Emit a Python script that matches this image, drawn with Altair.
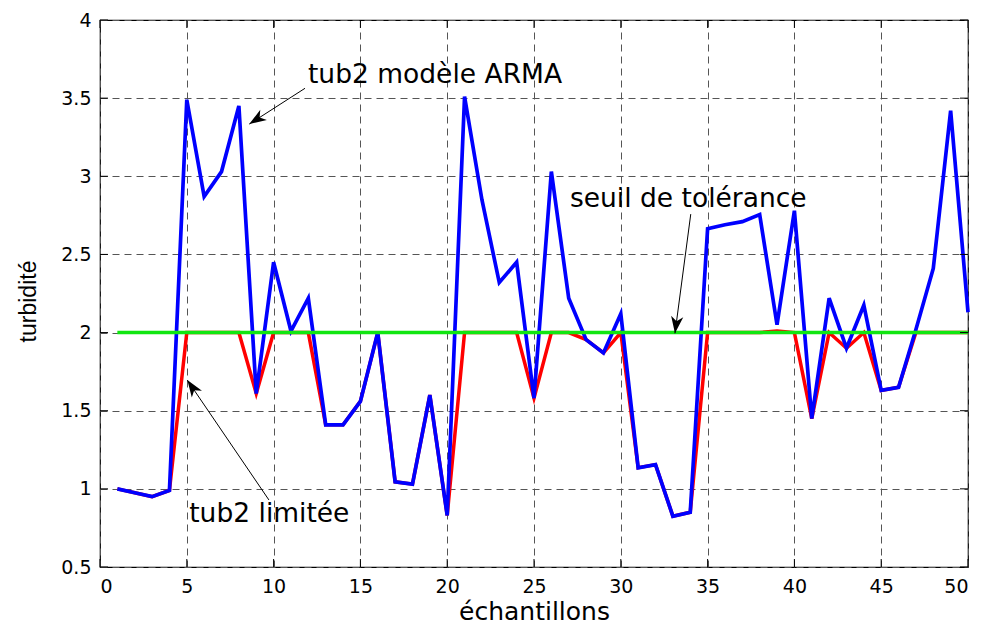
import math
import altair as alt
import pandas as pd

# ---------------- data ----------------
samples = list(range(1, 51))
tub2_arma = [1.00, 0.975, 0.95, 0.99, 3.49, 2.87, 3.03, 3.45, 1.61, 2.45,
             2.01, 2.22, 1.41, 1.41, 1.56, 2.00, 1.045, 1.03, 1.60, 0.83,
             3.51, 2.85, 2.32, 2.45, 1.58, 3.03, 2.22, 1.955, 1.87, 2.12,
             1.135, 1.155, 0.825, 0.85, 2.665, 2.69, 2.71, 2.755, 2.05, 2.78,
             1.45, 2.22, 1.90, 2.175, 1.63, 1.65, 2.02, 2.41, 3.42, 2.13]
tub2_limitee = [1.00, 0.975, 0.95, 0.99, 2.0, 2.0, 2.0, 2.0, 1.61, 2.0,
                2.0, 2.0, 1.41, 1.41, 1.56, 2.0, 1.045, 1.03, 1.60, 0.83,
                2.0, 2.0, 2.0, 2.0, 1.58, 2.0, 2.0, 1.955, 1.87, 2.0,
                1.135, 1.155, 0.825, 0.85, 2.0, 2.0, 2.0, 2.0, 2.01, 2.0,
                1.45, 2.0, 1.90, 2.0, 1.63, 1.65, 2.0, 2.0, 2.0, 2.0]
seuil_x = [1, 50]
seuil_y = [2.0, 2.0]

x_ticks = [0, 5, 10, 15, 20, 25, 30, 35, 40, 45, 50]
y_ticks = [0.5, 1, 1.5, 2, 2.5, 3, 3.5, 4]

ann_text = ["tub2 modèle ARMA", "seuil de tolérance", "tub2 limitée"]
ann_text_x = [11.98, 27.07, 5.14]
ann_text_y = [3.598, 2.805, 0.79]
arrow_tail_x = [11.81, 34.03, 9.73]
arrow_tail_y = [3.563, 2.758, 0.929]
arrow_head_x = [8.60, 33.12, 5.03]
arrow_head_y = [3.334, 1.995, 1.696]

# ---------------- layout ----------------
W, H = 868, 547
X_DOM = [0, 50]
Y_DOM = [0.5, 4]
FONT = "DejaVu Sans"

sx = W / (X_DOM[1] - X_DOM[0])
sy = H / (Y_DOM[1] - Y_DOM[0])

angles = []
for tx, ty, hx, hy in zip(arrow_tail_x, arrow_tail_y, arrow_head_x, arrow_head_y):
    dx = (hx - tx) * sx
    dy = -(hy - ty) * sy
    angles.append(math.degrees(math.atan2(dx, -dy)) % 360)

df = pd.DataFrame({"x": samples, "arma": tub2_arma, "lim": tub2_limitee})
df_seuil = pd.DataFrame({"x": seuil_x, "y": seuil_y})
df_ann = pd.DataFrame({
    "text": ann_text, "tx": ann_text_x, "ty": ann_text_y,
    "ax": arrow_tail_x, "ay": arrow_tail_y,
    "hx": arrow_head_x, "hy": arrow_head_y, "ang": angles,
})
df_xt = pd.DataFrame({"v": x_ticks})
df_yt = pd.DataFrame({"v": y_ticks})

xscale = alt.Scale(domain=X_DOM, nice=False, zero=False)
yscale = alt.Scale(domain=Y_DOM, nice=False, zero=False)

x_axis = alt.Axis(values=x_ticks, grid=True, tickSize=0, domain=False,
                  labelPadding=10, title="échantillons",
                  titleFontSize=25, titleFont=FONT, titleFontWeight="normal",
                  titleBaseline="alphabetic", titleY=52, titleColor="black")
y_axis = alt.Axis(values=y_ticks, grid=True, tickSize=0, domain=False, format="~g",
                  labelPadding=9, title="turbidité",
                  titleFontSize=23, titleFont="Liberation Sans", titleFontWeight="normal",
                  titleAngle=270, titleX=-72, titleY=281, titleAlign="center",
                  titleBaseline="middle", titleColor="black")

base = alt.Chart(df)

red = base.mark_line(color="#ff0000", strokeWidth=3.5).encode(
    x=alt.X("x:Q", scale=xscale, axis=x_axis),
    y=alt.Y("lim:Q", scale=yscale, axis=y_axis),
)
blue = base.mark_line(color="#0000ff", strokeWidth=3.7).encode(
    x=alt.X("x:Q", scale=xscale),
    y=alt.Y("arma:Q", scale=yscale),
)
green = alt.Chart(df_seuil).mark_line(color="#11e611", strokeWidth=3.5).encode(
    x=alt.X("x:Q", scale=xscale),
    y=alt.Y("y:Q", scale=yscale),
)

TL = 8
tick_b = alt.Chart(df_xt).mark_rule(color="black", strokeWidth=1).encode(
    x=alt.X("v:Q", scale=xscale), y=alt.value(H), y2=alt.value(H - TL))
tick_t = alt.Chart(df_xt).mark_rule(color="black", strokeWidth=1).encode(
    x=alt.X("v:Q", scale=xscale), y=alt.value(0), y2=alt.value(TL))
tick_l = alt.Chart(df_yt).mark_rule(color="black", strokeWidth=1).encode(
    y=alt.Y("v:Q", scale=yscale), x=alt.value(0), x2=alt.value(TL))
tick_r = alt.Chart(df_yt).mark_rule(color="black", strokeWidth=1).encode(
    y=alt.Y("v:Q", scale=yscale), x=alt.value(W), x2=alt.value(W - TL))

arrow_lines = alt.Chart(df_ann).mark_rule(color="black", strokeWidth=1).encode(
    x=alt.X("ax:Q", scale=xscale), y=alt.Y("ay:Q", scale=yscale),
    x2="hx:Q", y2="hy:Q",
)
ARROW_PATH = "M0,0 L0.36,1 L0,0.72 L-0.36,1 Z"
arrow_heads = alt.Chart(df_ann).mark_point(
    shape=ARROW_PATH, filled=True, size=1156, color="black", opacity=1, strokeWidth=0
).encode(
    x=alt.X("hx:Q", scale=xscale), y=alt.Y("hy:Q", scale=yscale),
    angle=alt.Angle("ang:Q", scale=None),
)
labels = alt.Chart(df_ann).mark_text(
    align="left", baseline="alphabetic", font=FONT, fontSize=26.5, color="black"
).encode(
    x=alt.X("tx:Q", scale=xscale), y=alt.Y("ty:Q", scale=yscale), text="text:N",
)

chart = alt.layer(
    red, blue, green, tick_b, tick_t, tick_l, tick_r, arrow_lines, arrow_heads, labels
).properties(
    width=W, height=H,
    autosize=alt.AutoSizeParams(type="none"),
    padding={"left": 100, "top": 20, "right": 16, "bottom": 60},
    background="white",
).configure_view(
    stroke="black", strokeWidth=1.2
).configure_axis(
    gridColor="#555555", gridDash=[7, 5], gridWidth=1, gridOpacity=1,
    labelFont=FONT, labelFontSize=19, labelColor="black",
)

chart.save("out.html", embed_options={"renderer": "svg", "actions": False})
